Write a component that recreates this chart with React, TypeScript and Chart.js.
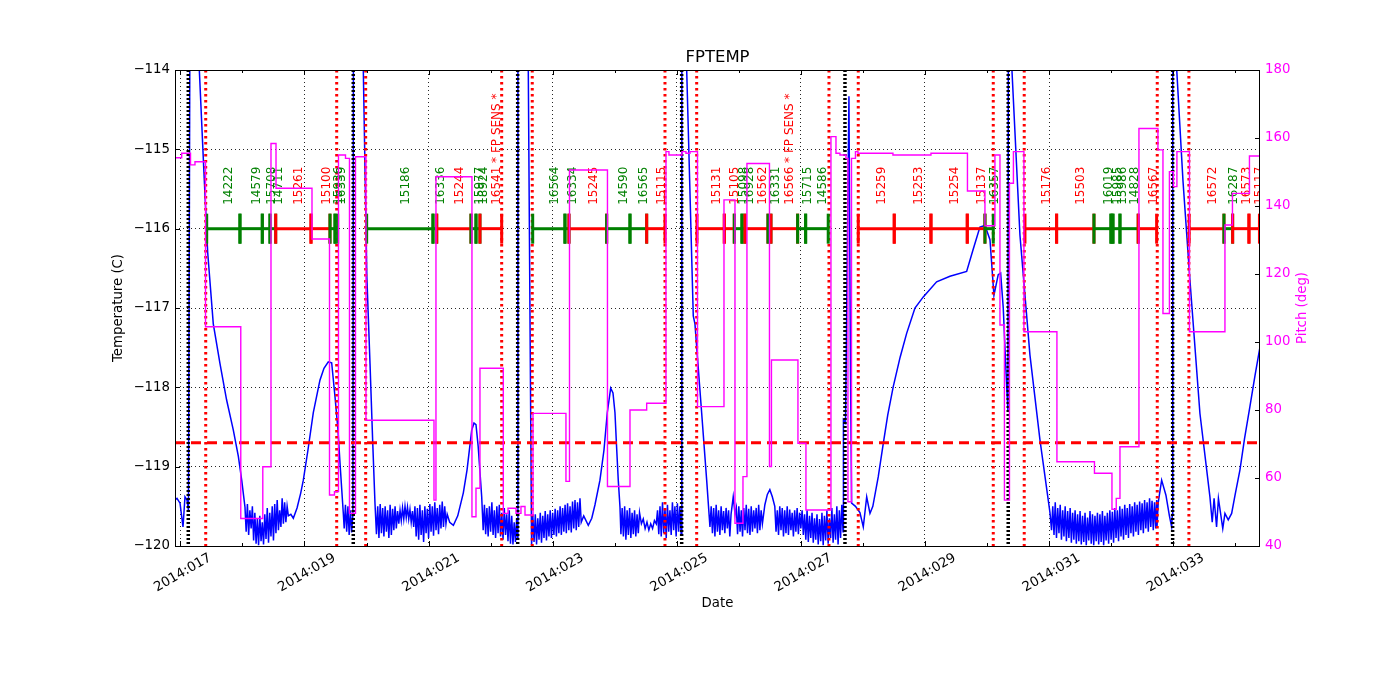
import React, { useEffect, useRef } from 'react';
import { Chart, registerables } from 'chart.js';

Chart.register(...registerables);
Chart.defaults.font.family = "'DejaVu Sans', sans-serif";
Chart.defaults.color = '#000000';

// ---------- axes ----------
const xMinDay = 16.913;
const xMaxDay = 34.4;
const xTickDays = [17, 19, 21, 23, 25, 27, 29, 31, 33];
const xMinorDays = [17, 18, 19, 20, 21, 22, 23, 24, 25, 26, 27, 28, 29, 30, 31, 32, 33, 34];
const tempTicks = [-120, -119, -118, -117, -116, -115, -114];
const pitchTicks = [40, 60, 80, 100, 120, 140, 160, 180];
const tempLimit = -118.7;
const obsidLevel = -116;
const obsidLabelLevel = -115.7;

// ---------- vertical event lines (day of year) ----------
const redEventDays = [17.408, 19.519, 19.986, 22.178, 22.671, 24.81, 25.321, 27.453, 27.925, 30.101, 30.6, 32.744, 33.254];
const blackEventDays = [17.127, 19.786, 22.436, 25.079, 27.711, 30.342, 32.992];

// ---------- obsids ----------
const obsidIds = [
  '14222', '14579', '15708', '14711', '15261', '15100', '15936', '16339',
  '15186', '16336', '15244', '15977', '18924', '16541 * FP SENS *',
  '16564', '16334', '15245', '14590', '16565', '15115',
  '15131', '15105', '15098', '16928', '16562', '16331', '16566 * FP SENS *', '15715', '14586',
  '15259', '15253', '15254', '15137', '16357',
  '15176', '15503', '16019', '15985', '15986', '14828', '16567',
  '16572', '16287', '16573', '15117',
];
const obsidStart = [
  17.424, 17.96, 18.32, 18.444, 18.536, 19.105, 19.411, 19.492,
  20.002, 21.071, 21.131, 21.683, 21.764, 21.828,
  22.678, 23.198, 23.263, 23.87, 24.246, 24.515,
  25.326, 25.766, 25.927, 26.051, 26.099, 26.47, 26.518, 26.948, 27.077,
  27.925, 28.505, 29.097, 29.682, 29.967,
  30.612, 31.122, 31.724, 31.998, 32.03, 32.143, 32.437,
  33.259, 33.819, 33.959, 34.222,
];
const obsidStop = [
  17.96, 18.32, 18.444, 18.536, 19.105, 19.411, 19.492, 19.535,
  21.071, 21.131, 21.683, 21.764, 21.828, 22.178,
  23.198, 23.263, 23.87, 24.246, 24.515, 24.81,
  25.766, 25.927, 26.051, 26.099, 26.47, 26.518, 26.948, 27.077, 27.441,
  28.505, 29.097, 29.682, 29.967, 30.101,
  31.122, 31.724, 31.998, 32.03, 32.143, 32.437, 32.734,
  33.819, 33.959, 34.222, 34.391,
];
const obsidKind = [
  'g', 'g', 'g', 'g', 'r', 'r', 'g', 'g',
  'g', 'g', 'r', 'g', 'g', 'r',
  'g', 'g', 'r', 'g', 'g', 'r',
  'r', 'r', 'g', 'g', 'r', 'g', 'r', 'g', 'g',
  'r', 'r', 'r', 'r', 'g',
  'r', 'r', 'g', 'g', 'g', 'g', 'r',
  'r', 'g', 'r', 'r',
];

// ---------- pitch (deg), value held from each day to the next ----------
const pitchSteps: [number, number][] = [
  [16.913, 154.2], [17.021, 155.5], [17.163, 152.1], [17.235, 153.0], [17.405, 104.5], [17.973, 48.1],
  [18.328, 63.3], [18.46, 158.4], [18.541, 145.2], [19.121, 130.3], [19.403, 55.0], [19.483, 56.0],
  [19.548, 155.0], [19.661, 154.0], [19.725, 49.6], [19.822, 154.5], [19.991, 77.0], [21.087, 53.5],
  [21.119, 148.6], [21.699, 48.6], [21.764, 57.0], [21.828, 92.3], [22.204, 49.6], [22.28, 51.1],
  [22.409, 49.6], [22.489, 51.6], [22.554, 49.1], [22.683, 79.0], [23.214, 59.0], [23.271, 150.6],
  [23.883, 57.5], [24.246, 80.0], [24.515, 82.0], [24.826, 156.0], [24.874, 155.0], [25.084, 156.0],
  [25.148, 155.5], [25.213, 156.0], [25.334, 81.0], [25.761, 141.8], [25.938, 46.7], [26.067, 60.4],
  [26.131, 152.5], [26.494, 63.4], [26.526, 94.7], [26.953, 70.2], [27.082, 50.6], [27.485, 160.4],
  [27.566, 155.5], [27.63, 155.0], [27.727, 154.0], [27.759, 53.0], [27.816, 154.0], [27.88, 156.0],
  [27.92, 155.5], [28.484, 155.0], [29.097, 155.5], [29.685, 144.4], [29.967, 134.2], [30.128, 155.0],
  [30.209, 105.0], [30.281, 53.5], [30.362, 146.7], [30.426, 156.0], [30.595, 103.0], [31.127, 64.8],
  [31.732, 61.4], [32.014, 50.8], [32.083, 54.0], [32.143, 69.2], [32.449, 162.8], [32.755, 156.5],
  [32.836, 108.4], [32.94, 150.1], [33.005, 145.7], [33.061, 156.0], [33.263, 103.0], [33.835, 134.4],
  [33.956, 143.7], [34.23, 154.7], [34.4, 154.7],
];

// ---------- FPTEMP (C), per orbit ----------
const tempOrbit1: [number, number][] = [
  [16.913, -119.42], [16.945, -119.4], [16.994, -119.46], [17.042, -119.76], [17.074, -119.38], [17.106, -119.42], [17.13, -119.55],
  [17.155, -113.0], [17.29, -113.0], [17.305, -114.0], [17.38, -115.3], [17.44, -116.3], [17.53, -117.2], [17.638, -117.7],
  [17.745, -118.16], [17.853, -118.54], [17.934, -118.87], [17.988, -119.17], [18.041, -119.51],
  [18.06, -119.82], [18.08, -119.47], [18.1, -119.86], [18.12, -119.55], [18.14, -119.78], [18.16, -119.5], [18.18, -119.93],
  [18.2, -119.58], [18.22, -119.97], [18.24, -119.66], [18.26, -119.99], [18.28, -119.62], [18.3, -119.94], [18.32, -119.7],
  [18.34, -119.98], [18.36, -119.6], [18.38, -119.91], [18.4, -119.52], [18.42, -119.96], [18.44, -119.58], [18.46, -119.88],
  [18.48, -119.5], [18.5, -119.93], [18.52, -119.47], [18.54, -119.84], [18.56, -119.42], [18.58, -119.8], [18.6, -119.55],
  [18.62, -119.76], [18.64, -119.4], [18.66, -119.72], [18.68, -119.45], [18.7, -119.7], [18.72, -119.5], [18.74, -119.62],
  [18.78, -119.6], [18.82, -119.65], [18.88, -119.52], [18.94, -119.33], [18.981, -119.17], [19.056, -118.79], [19.142, -118.32],
  [19.249, -117.91], [19.314, -117.76], [19.384, -117.68], [19.438, -117.69], [19.492, -118.12], [19.54, -118.54], [19.572, -118.95],
  [19.625, -119.58], [19.64, -119.78], [19.66, -119.48], [19.68, -119.82], [19.7, -119.5], [19.72, -119.86], [19.74, -119.55],
  [19.76, -119.83], [19.78, -119.6],
];
const tempOrbit2: [number, number][] = [
  [19.79, -113.0], [19.93, -113.0], [19.948, -114.0], [20.005, -116.6], [20.056, -117.7], [20.1, -118.7], [20.136, -119.46],
  [20.16, -119.85], [20.18, -119.5], [20.2, -119.9], [20.22, -119.47], [20.24, -119.84], [20.26, -119.52], [20.28, -119.88],
  [20.3, -119.5], [20.32, -119.82], [20.34, -119.55], [20.36, -119.9], [20.38, -119.48], [20.4, -119.86], [20.42, -119.53],
  [20.44, -119.8], [20.46, -119.5], [20.48, -119.78], [20.5, -119.56], [20.52, -119.72], [20.54, -119.55], [20.56, -119.68],
  [20.58, -119.52], [20.6, -119.66], [20.62, -119.5], [20.64, -119.64], [20.66, -119.51], [20.68, -119.66], [20.7, -119.54],
  [20.72, -119.7], [20.74, -119.56], [20.76, -119.76], [20.78, -119.5], [20.8, -119.88], [20.82, -119.52], [20.84, -119.92],
  [20.86, -119.48], [20.88, -119.86], [20.9, -119.55], [20.92, -119.95], [20.94, -119.5], [20.96, -119.84], [20.98, -119.53],
  [21.0, -119.9], [21.02, -119.47], [21.04, -119.82], [21.06, -119.5], [21.08, -119.87], [21.1, -119.45], [21.12, -119.8],
  [21.14, -119.52], [21.16, -119.85], [21.18, -119.48], [21.2, -119.78], [21.22, -119.44], [21.24, -119.76], [21.26, -119.5],
  [21.28, -119.72], [21.3, -119.6], [21.34, -119.7], [21.4, -119.74], [21.47, -119.62], [21.56, -119.33], [21.62, -119.04],
  [21.695, -118.54], [21.732, -118.45], [21.764, -118.47], [21.8, -118.75], [21.856, -119.38],
  [21.88, -119.8], [21.9, -119.48], [21.92, -119.85], [21.94, -119.52], [21.96, -119.88], [21.98, -119.5], [22.0, -119.82],
  [22.02, -119.45], [22.04, -119.86], [22.06, -119.55], [22.08, -119.9], [22.1, -119.5], [22.12, -119.84], [22.14, -119.48],
  [22.16, -119.88], [22.18, -119.58], [22.2, -119.92], [22.22, -119.52], [22.24, -119.86], [22.26, -119.6], [22.28, -119.94],
  [22.3, -119.55], [22.32, -119.97], [22.34, -119.62], [22.36, -119.98], [22.38, -119.7], [22.4, -119.95], [22.42, -119.65],
  [22.434, -119.9],
];
const tempOrbit3: [number, number][] = [
  [22.44, -113.0], [22.6, -113.0], [22.607, -114.0], [22.66, -119.99],
  [22.68, -119.62], [22.7, -119.95], [22.72, -119.6], [22.74, -119.98], [22.76, -119.65], [22.78, -119.92], [22.8, -119.58],
  [22.82, -119.96], [22.84, -119.62], [22.86, -119.9], [22.88, -119.56], [22.9, -119.93], [22.92, -119.6], [22.94, -119.88],
  [22.96, -119.55], [22.98, -119.9], [23.0, -119.58], [23.02, -119.86], [23.04, -119.53], [23.06, -119.88], [23.08, -119.55],
  [23.1, -119.84], [23.12, -119.5], [23.14, -119.86], [23.16, -119.52], [23.18, -119.82], [23.2, -119.48], [23.22, -119.84],
  [23.24, -119.46], [23.26, -119.8], [23.28, -119.5], [23.3, -119.83], [23.32, -119.44], [23.34, -119.78], [23.36, -119.42],
  [23.38, -119.8], [23.4, -119.45], [23.42, -119.76], [23.44, -119.4], [23.46, -119.7],
  [23.5, -119.62], [23.574, -119.74], [23.63, -119.65], [23.682, -119.48], [23.762, -119.17], [23.827, -118.79], [23.88, -118.32],
  [23.935, -118.01], [23.972, -118.07], [24.004, -118.32], [24.03, -118.75], [24.057, -119.17], [24.085, -119.51],
  [24.1, -119.85], [24.12, -119.52], [24.14, -119.88], [24.16, -119.5], [24.18, -119.92], [24.2, -119.55], [24.22, -119.86],
  [24.24, -119.52], [24.26, -119.9], [24.28, -119.58], [24.3, -119.85], [24.32, -119.55], [24.34, -119.88], [24.36, -119.6],
  [24.38, -119.84], [24.4, -119.58], [24.43, -119.72], [24.46, -119.66], [24.49, -119.78], [24.52, -119.7], [24.55, -119.8],
  [24.58, -119.72], [24.61, -119.78], [24.64, -119.68], [24.67, -119.72], [24.69, -119.55], [24.71, -119.85], [24.73, -119.5],
  [24.75, -119.88], [24.77, -119.45], [24.79, -119.84], [24.81, -119.52], [24.83, -119.9], [24.85, -119.48], [24.87, -119.82],
  [24.89, -119.55], [24.91, -119.86], [24.93, -119.45], [24.95, -119.8], [24.97, -119.5], [24.99, -119.88], [25.01, -119.46],
  [25.03, -119.82], [25.05, -119.5], [25.07, -119.85],
];
const tempOrbit4: [number, number][] = [
  [25.082, -113.0], [25.15, -113.0], [25.16, -114.0], [25.266, -117.1], [25.293, -117.2], [25.401, -118.32], [25.482, -119.17],
  [25.535, -119.76], [25.555, -119.5], [25.575, -119.84], [25.595, -119.52], [25.615, -119.88], [25.635, -119.48], [25.655, -119.82],
  [25.675, -119.55], [25.695, -119.86], [25.715, -119.5], [25.735, -119.8], [25.755, -119.56], [25.775, -119.84], [25.795, -119.52],
  [25.815, -119.78], [25.835, -119.55], [25.855, -119.88], [25.875, -119.6], [25.91, -119.38], [25.94, -119.6], [25.96, -119.52],
  [25.98, -119.85], [26.0, -119.5], [26.02, -119.82], [26.04, -119.55], [26.06, -119.88], [26.08, -119.52], [26.1, -119.8],
  [26.12, -119.48], [26.14, -119.84], [26.16, -119.53], [26.18, -119.86], [26.2, -119.5], [26.22, -119.82], [26.24, -119.55],
  [26.26, -119.78], [26.28, -119.52], [26.3, -119.84], [26.32, -119.48], [26.34, -119.8], [26.36, -119.55], [26.38, -119.72],
  [26.42, -119.48], [26.46, -119.35], [26.5, -119.29], [26.54, -119.38], [26.58, -119.5], [26.6, -119.82], [26.62, -119.55],
  [26.64, -119.86], [26.66, -119.5], [26.68, -119.8], [26.7, -119.52], [26.72, -119.88], [26.74, -119.55], [26.76, -119.84],
  [26.78, -119.5], [26.8, -119.86], [26.82, -119.54], [26.84, -119.8], [26.86, -119.58], [26.88, -119.88], [26.9, -119.55],
  [26.92, -119.82], [26.94, -119.52], [26.96, -119.85], [26.98, -119.58], [27.0, -119.78], [27.02, -119.55], [27.04, -119.86],
  [27.06, -119.6], [27.08, -119.92], [27.1, -119.55], [27.12, -119.95], [27.14, -119.62], [27.16, -119.9], [27.18, -119.58],
  [27.2, -119.96], [27.22, -119.65], [27.24, -119.92], [27.26, -119.6], [27.28, -119.98], [27.3, -119.66], [27.32, -119.94],
  [27.34, -119.58], [27.36, -119.99], [27.38, -119.62], [27.4, -119.93], [27.42, -119.55], [27.44, -119.97], [27.46, -119.65],
  [27.48, -119.9], [27.5, -119.52], [27.52, -119.96], [27.54, -119.6], [27.56, -119.92], [27.58, -119.5], [27.6, -119.98],
  [27.62, -119.55], [27.64, -119.9], [27.66, -119.48], [27.68, -119.82],
];
const tempOrbit5: [number, number][] = [
  [27.686, -118.41], [27.72, -118.45], [27.775, -114.33], [27.8, -117.8], [27.818, -119.46], [27.88, -119.5], [27.952, -119.58],
  [28.006, -119.76], [28.061, -119.38], [28.114, -119.59], [28.16, -119.5], [28.247, -119.13], [28.328, -118.71], [28.4, -118.35],
  [28.489, -117.99], [28.6, -117.62], [28.705, -117.32], [28.839, -117.0], [28.973, -116.86], [29.188, -116.67], [29.403, -116.6],
  [29.672, -116.54], [29.774, -116.27], [29.886, -115.98], [29.967, -115.96], [30.048, -116.14], [30.112, -116.84], [30.181, -116.58],
  [30.22, -116.56], [30.262, -117.0], [30.317, -117.99], [30.338, -118.3],
];
const tempOrbit6: [number, number][] = [
  [30.345, -113.0], [30.39, -113.0], [30.402, -114.0], [30.531, -116.08], [30.692, -117.59], [30.853, -118.66], [31.015, -119.58],
  [31.04, -119.8], [31.06, -119.5], [31.08, -119.86], [31.1, -119.45], [31.12, -119.9], [31.14, -119.52], [31.16, -119.84],
  [31.18, -119.48], [31.2, -119.92], [31.22, -119.55], [31.24, -119.88], [31.26, -119.5], [31.28, -119.94], [31.3, -119.56],
  [31.32, -119.9], [31.34, -119.52], [31.36, -119.96], [31.38, -119.58], [31.4, -119.92], [31.42, -119.55], [31.44, -119.97],
  [31.46, -119.6], [31.48, -119.94], [31.5, -119.56], [31.52, -119.98], [31.54, -119.62], [31.56, -119.95], [31.58, -119.58],
  [31.6, -119.99], [31.62, -119.64], [31.64, -119.93], [31.66, -119.56], [31.68, -119.97], [31.7, -119.6], [31.72, -119.99],
  [31.74, -119.62], [31.76, -119.94], [31.78, -119.58], [31.8, -119.98], [31.82, -119.6], [31.84, -119.95], [31.86, -119.56],
  [31.88, -119.99], [31.9, -119.62], [31.92, -119.93], [31.94, -119.58], [31.96, -119.97], [31.98, -119.55], [32.0, -119.92],
  [32.02, -119.57], [32.04, -119.96], [32.06, -119.52], [32.08, -119.9], [32.1, -119.55], [32.12, -119.94], [32.14, -119.5],
  [32.16, -119.88], [32.18, -119.53], [32.2, -119.92], [32.22, -119.48], [32.24, -119.86], [32.26, -119.52], [32.28, -119.9],
  [32.3, -119.47], [32.32, -119.84], [32.34, -119.5], [32.36, -119.88], [32.38, -119.45], [32.4, -119.82], [32.42, -119.48],
  [32.44, -119.86], [32.46, -119.44], [32.48, -119.8], [32.5, -119.46], [32.52, -119.84], [32.54, -119.42], [32.56, -119.78],
  [32.58, -119.45], [32.6, -119.82], [32.62, -119.4], [32.64, -119.76], [32.66, -119.43], [32.68, -119.8], [32.7, -119.45],
  [32.72, -119.78], [32.735, -119.42], [32.74, -119.76], [32.76, -119.45], [32.815, -119.17], [32.884, -119.36], [32.94, -119.62],
  [32.976, -119.76], [32.988, -119.6],
];
const tempOrbit7: [number, number][] = [
  [32.994, -113.0], [33.05, -113.0], [33.058, -114.0], [33.158, -115.39], [33.271, -116.65], [33.432, -118.33], [33.593, -119.38],
  [33.63, -119.7], [33.66, -119.4], [33.7, -119.76], [33.73, -119.4], [33.8, -119.78], [33.835, -119.59], [33.888, -119.67],
  [33.943, -119.59], [34.0, -119.35], [34.077, -119.04], [34.15, -118.65], [34.238, -118.24], [34.32, -117.85], [34.4, -117.49],
];
const tempSeries = [...tempOrbit1, ...tempOrbit2, ...tempOrbit3, ...tempOrbit4, ...tempOrbit5, ...tempOrbit6, ...tempOrbit7];

const FONT = "'DejaVu Sans', sans-serif";

const extrasPlugin = {
  id: 'fptempExtras',
  afterDatasetDraw(chart: any, args: any) {
    if (args.index !== 1) return;
    const { ctx, chartArea: a, scales } = chart;
    const xs = scales.x;
    const ys = scales.y;
    ctx.save();
    ctx.beginPath();
    ctx.rect(a.left, a.top, a.right - a.left, a.bottom - a.top);
    ctx.clip();

    // red dotted event lines
    ctx.strokeStyle = '#ff0000';
    ctx.lineWidth = 3;
    ctx.setLineDash([2.5, 3.5]);
    for (const d of redEventDays) {
      const px = xs.getPixelForValue(d);
      ctx.beginPath();
      ctx.moveTo(px, a.top);
      ctx.lineTo(px, a.bottom);
      ctx.stroke();
    }
    // black dotted event lines
    ctx.strokeStyle = '#000000';
    ctx.lineWidth = 3.5;
    ctx.setLineDash([2, 2]);
    for (const d of blackEventDays) {
      const px = xs.getPixelForValue(d);
      ctx.beginPath();
      ctx.moveTo(px, a.top);
      ctx.lineTo(px, a.bottom);
      ctx.stroke();
    }
    // limit line
    ctx.strokeStyle = '#ff0000';
    ctx.lineWidth = 3;
    ctx.setLineDash([10, 6]);
    const yl = ys.getPixelForValue(tempLimit);
    ctx.beginPath();
    ctx.moveTo(a.left, yl);
    ctx.lineTo(a.right, yl);
    ctx.stroke();
    ctx.setLineDash([]);

    // obsid bars
    const yo = ys.getPixelForValue(obsidLevel);
    const ylab = ys.getPixelForValue(obsidLabelLevel);
    for (let i = 0; i < obsidIds.length; i++) {
      const col = obsidKind[i] === 'r' ? '#ff0000' : '#008000';
      const x0 = xs.getPixelForValue(obsidStart[i]);
      const x1 = xs.getPixelForValue(obsidStop[i]);
      ctx.strokeStyle = col;
      ctx.lineWidth = 3;
      ctx.beginPath();
      ctx.moveTo(x0, yo);
      ctx.lineTo(x1, yo);
      ctx.stroke();
      for (const xm of [x0, x1]) {
        ctx.beginPath();
        ctx.moveTo(xm, yo - 15);
        ctx.lineTo(xm, yo + 15);
        ctx.stroke();
      }
    }
    for (let i = 0; i < obsidIds.length; i++) {
      const col = obsidKind[i] === 'r' ? '#ff0000' : '#008000';
      const xm = xs.getPixelForValue((obsidStart[i] + obsidStop[i]) / 2);
      ctx.save();
      ctx.translate(xm, ylab);
      ctx.rotate(-Math.PI / 2);
      ctx.fillStyle = col;
      ctx.font = `12px ${FONT}`;
      ctx.textAlign = 'left';
      ctx.textBaseline = 'top';
      ctx.fillText(obsidIds[i], 0, 0);
      ctx.restore();
    }
    ctx.restore();
  },
  afterDraw(chart: any) {
    const { ctx, chartArea: a, scales } = chart;
    const xs = scales.x;
    const ys = scales.y;
    const y2 = scales.y2;
    ctx.save();
    // frame
    ctx.strokeStyle = '#000000';
    ctx.lineWidth = 1;
    ctx.setLineDash([]);
    ctx.strokeRect(a.left + 0.5, a.top + 0.5, a.right - a.left - 1, a.bottom - a.top);
    // ticks
    ctx.beginPath();
    for (const v of tempTicks) {
      const py = Math.round(ys.getPixelForValue(v)) + 0.5;
      ctx.moveTo(a.left, py);
      ctx.lineTo(a.left + 5, py);
    }
    for (const v of pitchTicks) {
      const py = Math.round(y2.getPixelForValue(v)) + 0.5;
      ctx.moveTo(a.right, py);
      ctx.lineTo(a.right - 5, py);
    }
    for (const d of xMinorDays) {
      const px = Math.round(xs.getPixelForValue(d)) + 0.5;
      if (px < a.left || px > a.right) continue;
      const len = xTickDays.includes(d) ? 5 : 3;
      ctx.moveTo(px, a.bottom);
      ctx.lineTo(px, a.bottom - len);
      ctx.moveTo(px, a.top);
      ctx.lineTo(px, a.top + len);
    }
    ctx.stroke();

    // titles
    ctx.fillStyle = '#000000';
    ctx.textAlign = 'center';
    ctx.textBaseline = 'middle';
    ctx.font = `16.5px ${FONT}`;
    ctx.fillText('FPTEMP', (a.left + a.right) / 2, 58);
    ctx.font = `13.3px ${FONT}`;
    ctx.fillText('Date', (a.left + a.right) / 2, 604);
    ctx.save();
    ctx.translate(119, (a.top + a.bottom) / 2);
    ctx.rotate(-Math.PI / 2);
    ctx.fillText('Temperature (C)', 0, 0);
    ctx.restore();
    ctx.save();
    ctx.translate(1303, (a.top + a.bottom) / 2);
    ctx.rotate(-Math.PI / 2);
    ctx.fillStyle = '#ff00ff';
    ctx.fillText('Pitch (deg)', 0, 0);
    ctx.restore();
    ctx.restore();
  },
};

export default function App() {
  const ref = useRef<HTMLCanvasElement>(null);
  useEffect(() => {
    const canvas = ref.current;
    if (!canvas) return;
    const chart = new Chart(canvas, {
      type: 'line',
      data: {
        datasets: [
          {
            label: 'Pitch',
            data: pitchSteps.map(([x, y]) => ({ x, y })),
            yAxisID: 'y2',
            borderColor: '#ff00ff',
            backgroundColor: '#ff00ff',
            borderWidth: 1.4,
            pointRadius: 0,
            stepped: 'before',
            fill: false,
          },
          {
            label: 'FPTEMP',
            data: tempSeries.map(([x, y]) => ({ x, y })),
            yAxisID: 'y',
            borderColor: '#0000ff',
            backgroundColor: '#0000ff',
            borderWidth: 1.5,
            pointRadius: 0,
            tension: 0,
            fill: false,
          },
        ],
      },
      options: {
        responsive: false,
        animation: false,
        events: [],
        layout: { padding: { top: 70, left: 0, right: 0, bottom: 0 } },
        plugins: {
          legend: { display: false },
          tooltip: { enabled: false },
          title: { display: false },
        },
        scales: {
          x: {
            type: 'linear',
            position: 'bottom',
            min: xMinDay,
            max: xMaxDay,
            afterBuildTicks: (s: any) => {
              s.ticks = xTickDays.map((v) => ({ value: v }));
            },
            afterFit: (s: any) => {
              s.height = 154;
            },
            ticks: {
              autoSkip: false,
              minRotation: 30,
              maxRotation: 30,
              padding: 4,
              labelOffset: 30,
              color: '#000000',
              font: { size: 13.3, family: FONT },
              callback: (v: any) => '2014:' + String(v).padStart(3, '0'),
            },
            grid: { color: 'rgba(0,0,0,0.85)', lineWidth: 1, drawTicks: false },
            border: { display: false, dash: [1, 3] },
          },
          y: {
            type: 'linear',
            position: 'left',
            min: -120,
            max: -114,
            afterFit: (s: any) => {
              s.width = 175;
            },
            ticks: {
              stepSize: 1,
              padding: 5,
              color: '#000000',
              font: { size: 13.3, family: FONT },
              callback: (v: any) => (v < 0 ? '\u2212' : '') + Math.abs(v),
            },
            grid: { color: 'rgba(0,0,0,0.85)', lineWidth: 1, drawTicks: false },
            border: { display: false, dash: [1, 3] },
          },
          y2: {
            type: 'linear',
            position: 'right',
            min: 40,
            max: 180,
            afterFit: (s: any) => {
              s.width = 140;
            },
            ticks: {
              stepSize: 20,
              padding: 5,
              color: '#ff00ff',
              font: { size: 13.3, family: FONT },
            },
            grid: { display: false, drawTicks: false },
            border: { display: false },
          },
        },
      } as any,
      plugins: [extrasPlugin],
    });
    return () => chart.destroy();
  }, []);
  return (
    <canvas
      ref={ref}
      width={1400}
      height={700}
      style={{ position: 'absolute', left: 0, top: 0, width: '1400px', height: '700px' }}
    />
  );
}
